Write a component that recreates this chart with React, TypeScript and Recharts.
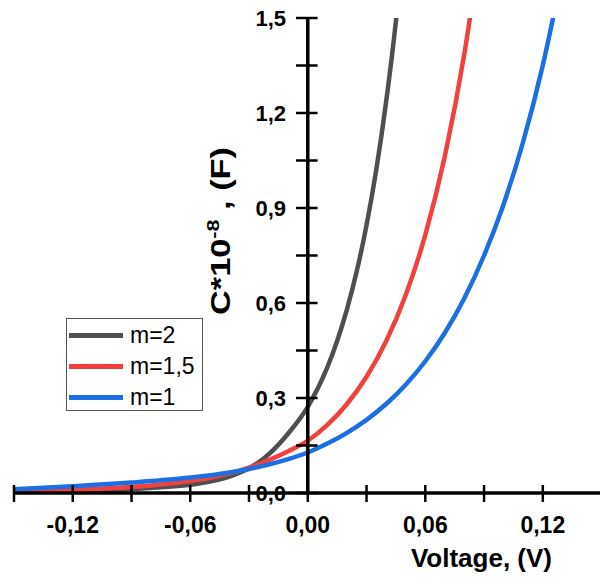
import { Line, LineChart, ReferenceLine, XAxis, YAxis } from "recharts";

const FONT = "'Liberation Sans', Arial, sans-serif";

// x axis: voltage (V)
const X_TICKS = [-0.15, -0.12, -0.09, -0.06, -0.03, 0, 0.03, 0.06, 0.09, 0.12];
const X_LABELED = [-0.12, -0.06, 0, 0.06, 0.12];
// y axis: C*10^-8 (F)
const Y_TICKS = [0, 0.15, 0.3, 0.45, 0.6, 0.75, 0.9, 1.05, 1.2, 1.35, 1.5];
const Y_LABELED = [0, 0.3, 0.6, 0.9, 1.2, 1.5];

// m=2
const voltM2 = [-0.15, -0.12, -0.105, -0.09, -0.075, -0.06, -0.05, -0.04, -0.03, -0.02, -0.01, 0, 0.01, 0.02, 0.025, 0.03, 0.035, 0.04, 0.045, 0.048];
const capM2 = [0.003, 0.006, 0.0085, 0.012, 0.018, 0.026, 0.036, 0.052, 0.078, 0.122, 0.188, 0.272, 0.397, 0.58, 0.7, 0.846, 1.022, 1.235, 1.49, 1.67];
// m=1,5
const voltM15 = [-0.15, -0.12, -0.105, -0.09, -0.075, -0.06, -0.05, -0.04, -0.03, -0.02, -0.01, 0, 0.01, 0.02, 0.03, 0.04, 0.05, 0.06, 0.07, 0.08, 0.09];
const capM15 = [0.006, 0.01, 0.014, 0.019, 0.027, 0.038, 0.048, 0.062, 0.08, 0.104, 0.132, 0.165, 0.215, 0.281, 0.367, 0.479, 0.625, 0.815, 1.064, 1.389, 1.813];
// m=1
const voltM1 = [-0.15, -0.12, -0.09, -0.075, -0.06, -0.045, -0.03, -0.02, -0.01, 0, 0.01, 0.02, 0.03, 0.04, 0.05, 0.06, 0.07, 0.08, 0.09, 0.1, 0.11, 0.12, 0.13];
const capM1 = [0.012, 0.021, 0.033, 0.04, 0.049, 0.06, 0.076, 0.09, 0.107, 0.128, 0.156, 0.19, 0.231, 0.281, 0.342, 0.416, 0.506, 0.616, 0.75, 0.912, 1.11, 1.351, 1.644];

const SERIES = [
  { name: "m=2", color: "#4f4f4f", v: voltM2, c: capM2 },
  { name: "m=1,5", color: "#f2403f", v: voltM15, c: capM15 },
  { name: "m=1", color: "#1b6fe2", v: voltM1, c: capM1 },
];

const isIn = (list: number[], v: number) => list.some((t) => Math.abs(t - v) < 1e-9);

function XTick({ x, y, payload }: any) {
  const v = payload.value as number;
  return (
    <g>
      <line x1={x} x2={x} y1={y - 8} y2={y + 9} stroke="#000" strokeWidth={2.5} />
      {isIn(X_LABELED, v) && (
        <text x={x} y={y + 40} textAnchor="middle" fontFamily={FONT} fontWeight="bold" fontSize={23} fill="#000">
          {v.toFixed(2).replace(".", ",")}
        </text>
      )}
    </g>
  );
}

export default function App() {
  return (
    <div style={{ position: "absolute", left: 0, top: 0, width: 600, height: 586, background: "#fff" }}>
      <LineChart width={600} height={586} margin={{ top: 18, right: 0, left: 14, bottom: 0 }}>
        <XAxis
          type="number"
          dataKey="v"
          domain={[-0.15, 0.1492]}
          allowDataOverflow
          ticks={X_TICKS}
          interval={0}
          height={93}
          tickSize={0}
          tickMargin={0}
          tickLine={false}
          axisLine={{ stroke: "#000", strokeWidth: 3.5 }}
          tick={<XTick />}
        />
        <YAxis hide type="number" domain={[0, 1.5]} allowDataOverflow />
        {SERIES.map((s) => (
          <Line
            key={s.name}
            data={s.v.map((v, i) => ({ v, c: s.c[i] }))}
            dataKey="c"
            type="monotone"
            stroke={s.color}
            strokeWidth={4.5}
            dot={false}
            activeDot={false}
            isAnimationActive={false}
          />
        ))}
        <ReferenceLine x={0} stroke="#000" strokeWidth={3.5} />
        {Y_TICKS.map((t) => (
          <ReferenceLine
            key={t}
            segment={[
              { x: -0.006, y: t },
              { x: 0.005, y: t },
            ]}
            stroke="#000"
            strokeWidth={2.5}
            label={
              isIn(Y_LABELED, t)
                ? {
                    value: t.toFixed(1).replace(".", ","),
                    position: "left",
                    offset: 10,
                    fill: "#000",
                    fontSize: 22,
                    fontWeight: "bold",
                    fontFamily: FONT,
                  }
                : undefined
            }
          />
        ))}
      </LineChart>

      <svg width={600} height={586} style={{ position: "absolute", left: 0, top: 0, pointerEvents: "none" }}>
        <text x={552} y={567} textAnchor="end" fontFamily={FONT} fontWeight="bold" fontSize={26} fill="#000">
          Voltage, (V)
        </text>
        <text
          transform="translate(230,231) rotate(-90)"
          textAnchor="middle"
          fontFamily={FONT}
          fontWeight="bold"
          fontSize={27}
          fill="#000"
          textLength={168}
          lengthAdjust="spacingAndGlyphs"
        >
          C*10
          <tspan fontSize={17} dy={-11}>-8</tspan>
          <tspan dy={11}> , (F)</tspan>
        </text>
      </svg>

      <div
        style={{
          position: "absolute",
          left: 66,
          top: 318,
          width: 135,
          height: 91,
          border: "1px solid #555",
          background: "#fff",
          fontFamily: FONT,
          fontSize: 23,
        }}
      >
        {SERIES.map((s, i) => (
          <div key={s.name} style={{ position: "absolute", left: 2, top: 16 + i * 31 - 13, height: 26, display: "flex", alignItems: "center" }}>
            <div style={{ width: 54, height: 5, background: s.color }} />
            <span style={{ marginLeft: 7 }}>{s.name}</span>
          </div>
        ))}
      </div>
    </div>
  );
}
